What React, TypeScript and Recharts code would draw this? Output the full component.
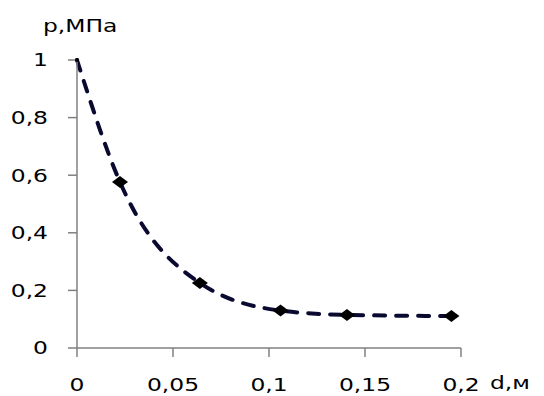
import { CartesianGrid, Line, LineChart, XAxis, YAxis } from "recharts";

const dValues = [0, 0.0224, 0.064, 0.106, 0.1406, 0.195];
const pValues = [1, 0.576, 0.226, 0.13, 0.115, 0.111];
const xTicks = [0, 0.05, 0.1, 0.15, 0.2];
const yTicks = [0, 0.2, 0.4, 0.6, 0.8, 1];

const data = dValues.map((d, i) => ({ d, p: pValues[i] }));

const fmt = (v: number) => String(v).replace(".", ",");
const FONT = "'DejaVu Sans', Verdana, sans-serif";
const STRETCH = 1.3;

function XTick(props: any) {
	const { x, y, payload } = props;
	return (
		<g transform={`translate(${x},${y}) scale(${STRETCH},1)`}>
			<text x={0} y={0} dy="0.71em" textAnchor="middle" fontSize={18} fill="#000" fontFamily={FONT}>
				{fmt(payload.value)}
			</text>
		</g>
	);
}

function YTick(props: any) {
	const { x, y, payload } = props;
	return (
		<g transform={`translate(${x},${y}) scale(${STRETCH},1)`}>
			<text x={0} y={0} dy="0.35em" textAnchor="end" fontSize={18} fill="#000" fontFamily={FONT}>
				{fmt(payload.value)}
			</text>
		</g>
	);
}

function Diamond(props: any) {
	const { cx, cy, index } = props;
	if (cx == null || cy == null) return null;
	if (index === 0) return <circle key={index} cx={cx} cy={cy} r={2} fill="#000" />;
	return (
		<polygon
			key={index}
			points={`${cx - 8},${cy} ${cx},${cy - 6} ${cx + 8},${cy} ${cx},${cy + 6}`}
			fill="#000"
		/>
	);
}

export default function App() {
	return (
		<div style={{ position: "absolute", left: 0, top: 0, width: 544, height: 396, background: "#fff" }}>
			<LineChart width={544} height={396} data={data} margin={{ top: 60, right: 83, bottom: 18, left: 0 }}>
				<CartesianGrid stroke="none" />
				<XAxis
					dataKey="d"
					type="number"
					domain={[0, 0.2]}
					ticks={xTicks}
					tick={<XTick />}
					height={30}
					tickSize={9}
					tickMargin={21}
					stroke="#808080"
					strokeWidth={1.5}
				/>
				<YAxis
					type="number"
					domain={[0, 1]}
					ticks={yTicks}
					tick={<YTick />}
					width={77}
					tickSize={9}
					tickMargin={20}
					stroke="#808080"
					strokeWidth={1.5}
				/>
				<Line
					type="monotone"
					dataKey="p"
					stroke="#0a0a30"
					strokeWidth={4}
					strokeDasharray="11 11"
					strokeLinecap="round"
					dot={<Diamond />}
					activeDot={false}
					isAnimationActive={false}
				/>
			</LineChart>
			<div
				style={{
					position: "absolute",
					left: 43,
					top: 14,
					fontFamily: FONT,
					fontSize: 18,
					lineHeight: "24px",
					transform: `scaleX(${STRETCH})`,
					transformOrigin: "0 0",
					whiteSpace: "nowrap",
				}}
			>
				p,МПа
			</div>
			<div
				style={{
					position: "absolute",
					left: 490,
					top: 371,
					fontFamily: FONT,
					fontSize: 18,
					lineHeight: "24px",
					transform: `scaleX(${STRETCH})`,
					transformOrigin: "0 0",
					whiteSpace: "nowrap",
				}}
			>
				d,м
			</div>
		</div>
	);
}
